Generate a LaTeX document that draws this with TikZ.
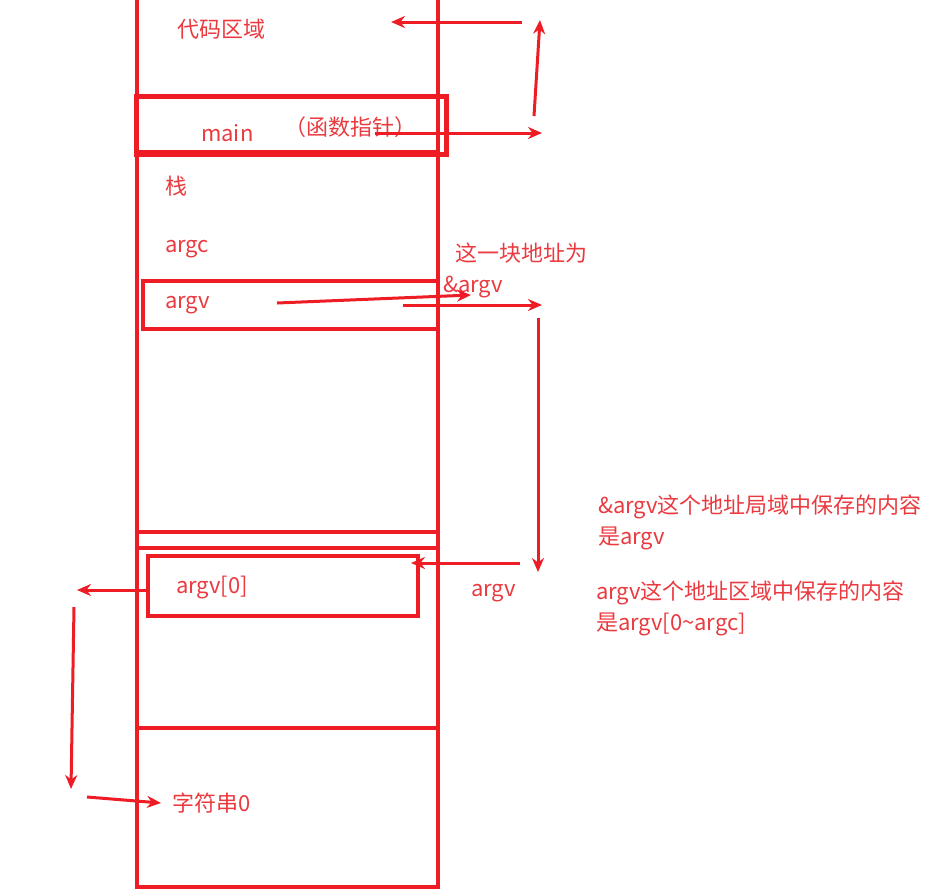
\documentclass[tikz,border=0pt]{standalone}
\usepackage{fontspec}
\setmainfont{Noto Sans CJK SC}
\usetikzlibrary{arrows.meta,positioning,calc}
\definecolor{memred}{HTML}{EE1C25}
\definecolor{textred}{HTML}{EA3A3F}
\tikzset{
  % Base styles
  diagram base/.style={
    x=1pt, y=-1pt,
    >={Stealth[length=14pt,width=12pt]},
    every node/.style={font=\fontsize{22}{31}\selectfont, text=textred, inner sep=0pt},
  },
  % Memory blocks
  mem line/.style={draw=memred, line width=4pt},
  mem box/.style={rectangle, draw=memred, line width=4pt, anchor=north west},
  main box/.style={rectangle, draw=memred, line width=5pt, anchor=north west},
  % Labels
  mem label/.style={anchor=west},
  note label/.style={anchor=west, align=left},
  % Pointer arrows
  ptr arrow/.style={->, draw=memred, line width=3pt},
}

\begin{document}
\begin{tikzpicture}[diagram base]
\useasboundingbox (0,0) rectangle (949,895);

% Memory column
\draw[mem line] (137,0) -- (137,887) -- (438,887) -- (438,0);
\draw[mem line] (137,152) -- (438,152);
\draw[mem line] (137,532) -- (438,532);
\draw[mem line] (137,548) -- (438,548);
\draw[mem line] (137,728) -- (438,728);

% Boxes inside the column
\node[main box, minimum width=310pt, minimum height=58pt] (mainbox) at (134,94) {};
\node[mem box, minimum width=295pt, minimum height=48pt] (argvbox) at (141,279) {};
\node[mem box, minimum width=270pt, minimum height=60pt] (argvzerobox) at (146,554) {};

% Labels in the column
\node[mem label] (code) at (177,29) {代码区域};
\node[mem label] (mainlbl) at (201,133) {main};
\node[mem label] (funcptr) at (284,127) {（函数指针）};
\node[mem label] (stack) at (165,186) {栈};
\node[mem label] (argc) at (165,249) {argc};
\node[mem label] (argv) at (165,305) {argv};
\node[mem label] (argvzero) at (176,588) {argv[0]};
\node[mem label] (strzero) at (172,803) {字符串0};

% Notes on the right
\node[mem label] (addrnote) at (455,253) {这一块地址为};
\node[mem label] (addrval) at (443,287) {\&argv};
\node[note label] (note1) at (598,522) {\&argv这个地址局域中保存的内容\\是argv};
\node[mem label] (argvlbl) at (471,593) {argv};
\node[note label] (note2) at (596,608) {argv这个地址区域中保存的内容\\是argv[0\textasciitilde argc]};

% Arrow end points
\coordinate (a1s) at (522,22);  \coordinate (a1e) at (391,22);
\coordinate (a2s) at (534,116); \coordinate (a2e) at (540,20);
\coordinate (a3s) at (375,133); \coordinate (a3e) at (542,133);
\coordinate (a4s) at (277,303); \coordinate (a4e) at (471,295);
\coordinate (a5s) at (403,305); \coordinate (a5e) at (542,305);
\coordinate (a6s) at (538,318); \coordinate (a6e) at (538,572);
\coordinate (a7s) at (520,563); \coordinate (a7e) at (411,563);
\coordinate (a8s) at (150,590); \coordinate (a8e) at (77,590);
\coordinate (a9s) at (74,607);  \coordinate (a9e) at (71,789);
\coordinate (a10s) at (87,797);

% Arrows
\draw[ptr arrow] (a1s) -- (a1e);
\draw[ptr arrow] (a2s) -- (a2e);
\draw[ptr arrow] (a3s) -- (a3e);
\draw[ptr arrow] (a4s) -- (a4e);
\draw[ptr arrow] (a5s) -- (a5e);
\draw[ptr arrow] (a6s) -- (a6e);
\draw[ptr arrow] (a7s) -- (a7e);
\draw[ptr arrow] (a8s) -- (a8e);
\draw[ptr arrow] (a9s) -- (a9e);
\draw[ptr arrow] (a10s) -- ([xshift=-11pt]strzero.west);
\end{tikzpicture}
\end{document}
